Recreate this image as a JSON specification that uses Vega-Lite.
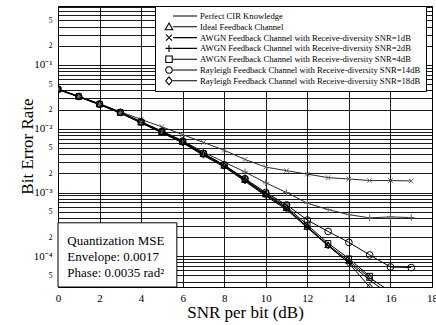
{
  "$schema": "https://vega.github.io/schema/vega-lite/v6.json",
  "width": 374,
  "height": 281,
  "autosize": "none",
  "padding": {"left": 58, "top": 6, "right": 4, "bottom": 38},
  "config": {
    "font": "Liberation Serif",
    "view": {"stroke": "#000", "strokeWidth": 1},
    "axis": {
      "domain": false,
      "ticks": false,
      "gridColor": "#000",
      "gridWidth": 0.9,
      "gridOpacity": 1,
      "labelColor": "#000",
      "titleColor": "#000",
      "labelFont": "Liberation Serif",
      "titleFont": "Liberation Serif",
      "titleFontWeight": "normal",
      "labelOverlap": false,
      "labelFlush": false,
      "labelBound": false
    }
  },
  "data": {
    "values": [
      {"s": "Perfect CIR Knowledge", "x": 0, "y": 0.0410},
      {"s": "Perfect CIR Knowledge", "x": 1, "y": 0.0314},
      {"s": "Perfect CIR Knowledge", "x": 2, "y": 0.0238},
      {"s": "Perfect CIR Knowledge", "x": 3, "y": 0.0175},
      {"s": "Perfect CIR Knowledge", "x": 4, "y": 0.0123},
      {"s": "Perfect CIR Knowledge", "x": 5, "y": 0.0086},
      {"s": "Perfect CIR Knowledge", "x": 6, "y": 0.0060},
      {"s": "Perfect CIR Knowledge", "x": 7, "y": 0.0038},
      {"s": "Perfect CIR Knowledge", "x": 8, "y": 0.00252},
      {"s": "Perfect CIR Knowledge", "x": 9, "y": 0.00150},
      {"s": "Perfect CIR Knowledge", "x": 10, "y": 0.00088},
      {"s": "Perfect CIR Knowledge", "x": 11, "y": 0.00054},
      {"s": "Perfect CIR Knowledge", "x": 12, "y": 0.00028},
      {"s": "Perfect CIR Knowledge", "x": 13, "y": 0.000145},
      {"s": "Perfect CIR Knowledge", "x": 14, "y": 0.000080},
      {"s": "Perfect CIR Knowledge", "x": 15, "y": 0.000042},
      {"s": "Perfect CIR Knowledge", "x": 16, "y": 0.000025},
      {"s": "Ideal Feedback Channel", "x": 0, "y": 0.0416},
      {"s": "Ideal Feedback Channel", "x": 1, "y": 0.0319},
      {"s": "Ideal Feedback Channel", "x": 2, "y": 0.0242},
      {"s": "Ideal Feedback Channel", "x": 3, "y": 0.0179},
      {"s": "Ideal Feedback Channel", "x": 4, "y": 0.0126},
      {"s": "Ideal Feedback Channel", "x": 5, "y": 0.0089},
      {"s": "Ideal Feedback Channel", "x": 6, "y": 0.0062},
      {"s": "Ideal Feedback Channel", "x": 7, "y": 0.0040},
      {"s": "Ideal Feedback Channel", "x": 8, "y": 0.00263},
      {"s": "Ideal Feedback Channel", "x": 9, "y": 0.00158},
      {"s": "Ideal Feedback Channel", "x": 10, "y": 0.00094},
      {"s": "Ideal Feedback Channel", "x": 11, "y": 0.00057},
      {"s": "Ideal Feedback Channel", "x": 12, "y": 0.00029},
      {"s": "Ideal Feedback Channel", "x": 13, "y": 0.000150},
      {"s": "Ideal Feedback Channel", "x": 14, "y": 0.000085},
      {"s": "Ideal Feedback Channel", "x": 15, "y": 0.000046},
      {"s": "Ideal Feedback Channel", "x": 16, "y": 0.000028},
      {"s": "AWGN Feedback Channel with Receive-diversity SNR=1dB", "x": 0, "y": 0.0420},
      {"s": "AWGN Feedback Channel with Receive-diversity SNR=1dB", "x": 1, "y": 0.0322},
      {"s": "AWGN Feedback Channel with Receive-diversity SNR=1dB", "x": 2, "y": 0.0246},
      {"s": "AWGN Feedback Channel with Receive-diversity SNR=1dB", "x": 3, "y": 0.0185},
      {"s": "AWGN Feedback Channel with Receive-diversity SNR=1dB", "x": 4, "y": 0.0140},
      {"s": "AWGN Feedback Channel with Receive-diversity SNR=1dB", "x": 5, "y": 0.0107},
      {"s": "AWGN Feedback Channel with Receive-diversity SNR=1dB", "x": 6, "y": 0.0081},
      {"s": "AWGN Feedback Channel with Receive-diversity SNR=1dB", "x": 7, "y": 0.0061},
      {"s": "AWGN Feedback Channel with Receive-diversity SNR=1dB", "x": 8, "y": 0.0046},
      {"s": "AWGN Feedback Channel with Receive-diversity SNR=1dB", "x": 9, "y": 0.0033},
      {"s": "AWGN Feedback Channel with Receive-diversity SNR=1dB", "x": 10, "y": 0.0025},
      {"s": "AWGN Feedback Channel with Receive-diversity SNR=1dB", "x": 11, "y": 0.0022},
      {"s": "AWGN Feedback Channel with Receive-diversity SNR=1dB", "x": 12, "y": 0.00194},
      {"s": "AWGN Feedback Channel with Receive-diversity SNR=1dB", "x": 13, "y": 0.00171},
      {"s": "AWGN Feedback Channel with Receive-diversity SNR=1dB", "x": 14, "y": 0.00163},
      {"s": "AWGN Feedback Channel with Receive-diversity SNR=1dB", "x": 15, "y": 0.00154},
      {"s": "AWGN Feedback Channel with Receive-diversity SNR=1dB", "x": 16, "y": 0.00154},
      {"s": "AWGN Feedback Channel with Receive-diversity SNR=1dB", "x": 17, "y": 0.00152},
      {"s": "AWGN Feedback Channel with Receive-diversity SNR=2dB", "x": 0, "y": 0.0418},
      {"s": "AWGN Feedback Channel with Receive-diversity SNR=2dB", "x": 1, "y": 0.0320},
      {"s": "AWGN Feedback Channel with Receive-diversity SNR=2dB", "x": 2, "y": 0.0244},
      {"s": "AWGN Feedback Channel with Receive-diversity SNR=2dB", "x": 3, "y": 0.0181},
      {"s": "AWGN Feedback Channel with Receive-diversity SNR=2dB", "x": 4, "y": 0.0129},
      {"s": "AWGN Feedback Channel with Receive-diversity SNR=2dB", "x": 5, "y": 0.0092},
      {"s": "AWGN Feedback Channel with Receive-diversity SNR=2dB", "x": 6, "y": 0.0065},
      {"s": "AWGN Feedback Channel with Receive-diversity SNR=2dB", "x": 7, "y": 0.0043},
      {"s": "AWGN Feedback Channel with Receive-diversity SNR=2dB", "x": 8, "y": 0.0030},
      {"s": "AWGN Feedback Channel with Receive-diversity SNR=2dB", "x": 9, "y": 0.0021},
      {"s": "AWGN Feedback Channel with Receive-diversity SNR=2dB", "x": 10, "y": 0.00142},
      {"s": "AWGN Feedback Channel with Receive-diversity SNR=2dB", "x": 11, "y": 0.00100},
      {"s": "AWGN Feedback Channel with Receive-diversity SNR=2dB", "x": 12, "y": 0.00068},
      {"s": "AWGN Feedback Channel with Receive-diversity SNR=2dB", "x": 13, "y": 0.00054},
      {"s": "AWGN Feedback Channel with Receive-diversity SNR=2dB", "x": 14, "y": 0.00045},
      {"s": "AWGN Feedback Channel with Receive-diversity SNR=2dB", "x": 15, "y": 0.00040},
      {"s": "AWGN Feedback Channel with Receive-diversity SNR=2dB", "x": 16, "y": 0.000415},
      {"s": "AWGN Feedback Channel with Receive-diversity SNR=2dB", "x": 17, "y": 0.000405},
      {"s": "AWGN Feedback Channel with Receive-diversity SNR=4dB", "x": 0, "y": 0.0417},
      {"s": "AWGN Feedback Channel with Receive-diversity SNR=4dB", "x": 1, "y": 0.0320},
      {"s": "AWGN Feedback Channel with Receive-diversity SNR=4dB", "x": 2, "y": 0.0243},
      {"s": "AWGN Feedback Channel with Receive-diversity SNR=4dB", "x": 3, "y": 0.0180},
      {"s": "AWGN Feedback Channel with Receive-diversity SNR=4dB", "x": 4, "y": 0.0127},
      {"s": "AWGN Feedback Channel with Receive-diversity SNR=4dB", "x": 5, "y": 0.0090},
      {"s": "AWGN Feedback Channel with Receive-diversity SNR=4dB", "x": 6, "y": 0.0063},
      {"s": "AWGN Feedback Channel with Receive-diversity SNR=4dB", "x": 7, "y": 0.0041},
      {"s": "AWGN Feedback Channel with Receive-diversity SNR=4dB", "x": 8, "y": 0.00268},
      {"s": "AWGN Feedback Channel with Receive-diversity SNR=4dB", "x": 9, "y": 0.00160},
      {"s": "AWGN Feedback Channel with Receive-diversity SNR=4dB", "x": 10, "y": 0.00096},
      {"s": "AWGN Feedback Channel with Receive-diversity SNR=4dB", "x": 11, "y": 0.00060},
      {"s": "AWGN Feedback Channel with Receive-diversity SNR=4dB", "x": 12, "y": 0.00031},
      {"s": "AWGN Feedback Channel with Receive-diversity SNR=4dB", "x": 13, "y": 0.000160},
      {"s": "AWGN Feedback Channel with Receive-diversity SNR=4dB", "x": 14, "y": 0.000092},
      {"s": "AWGN Feedback Channel with Receive-diversity SNR=4dB", "x": 15, "y": 0.000049},
      {"s": "Rayleigh Feedback Channel with Receive-diversity SNR=14dB", "x": 0, "y": 0.0418},
      {"s": "Rayleigh Feedback Channel with Receive-diversity SNR=14dB", "x": 1, "y": 0.0321},
      {"s": "Rayleigh Feedback Channel with Receive-diversity SNR=14dB", "x": 2, "y": 0.0244},
      {"s": "Rayleigh Feedback Channel with Receive-diversity SNR=14dB", "x": 3, "y": 0.0181},
      {"s": "Rayleigh Feedback Channel with Receive-diversity SNR=14dB", "x": 4, "y": 0.0128},
      {"s": "Rayleigh Feedback Channel with Receive-diversity SNR=14dB", "x": 5, "y": 0.0091},
      {"s": "Rayleigh Feedback Channel with Receive-diversity SNR=14dB", "x": 6, "y": 0.0064},
      {"s": "Rayleigh Feedback Channel with Receive-diversity SNR=14dB", "x": 7, "y": 0.0041},
      {"s": "Rayleigh Feedback Channel with Receive-diversity SNR=14dB", "x": 8, "y": 0.00270},
      {"s": "Rayleigh Feedback Channel with Receive-diversity SNR=14dB", "x": 9, "y": 0.00165},
      {"s": "Rayleigh Feedback Channel with Receive-diversity SNR=14dB", "x": 10, "y": 0.00100},
      {"s": "Rayleigh Feedback Channel with Receive-diversity SNR=14dB", "x": 11, "y": 0.00064},
      {"s": "Rayleigh Feedback Channel with Receive-diversity SNR=14dB", "x": 12, "y": 0.00037},
      {"s": "Rayleigh Feedback Channel with Receive-diversity SNR=14dB", "x": 13, "y": 0.000245},
      {"s": "Rayleigh Feedback Channel with Receive-diversity SNR=14dB", "x": 14, "y": 0.000165},
      {"s": "Rayleigh Feedback Channel with Receive-diversity SNR=14dB", "x": 15, "y": 0.000105},
      {"s": "Rayleigh Feedback Channel with Receive-diversity SNR=14dB", "x": 16, "y": 0.000068},
      {"s": "Rayleigh Feedback Channel with Receive-diversity SNR=14dB", "x": 17, "y": 0.0000665},
      {"s": "Rayleigh Feedback Channel with Receive-diversity SNR=18dB", "x": 0, "y": 0.0415},
      {"s": "Rayleigh Feedback Channel with Receive-diversity SNR=18dB", "x": 1, "y": 0.0318},
      {"s": "Rayleigh Feedback Channel with Receive-diversity SNR=18dB", "x": 2, "y": 0.0241},
      {"s": "Rayleigh Feedback Channel with Receive-diversity SNR=18dB", "x": 3, "y": 0.0178},
      {"s": "Rayleigh Feedback Channel with Receive-diversity SNR=18dB", "x": 4, "y": 0.0125},
      {"s": "Rayleigh Feedback Channel with Receive-diversity SNR=18dB", "x": 5, "y": 0.0088},
      {"s": "Rayleigh Feedback Channel with Receive-diversity SNR=18dB", "x": 6, "y": 0.0061},
      {"s": "Rayleigh Feedback Channel with Receive-diversity SNR=18dB", "x": 7, "y": 0.0039},
      {"s": "Rayleigh Feedback Channel with Receive-diversity SNR=18dB", "x": 8, "y": 0.00258},
      {"s": "Rayleigh Feedback Channel with Receive-diversity SNR=18dB", "x": 9, "y": 0.00154},
      {"s": "Rayleigh Feedback Channel with Receive-diversity SNR=18dB", "x": 10, "y": 0.00091},
      {"s": "Rayleigh Feedback Channel with Receive-diversity SNR=18dB", "x": 11, "y": 0.00056},
      {"s": "Rayleigh Feedback Channel with Receive-diversity SNR=18dB", "x": 12, "y": 0.00029},
      {"s": "Rayleigh Feedback Channel with Receive-diversity SNR=18dB", "x": 13, "y": 0.000148},
      {"s": "Rayleigh Feedback Channel with Receive-diversity SNR=18dB", "x": 14, "y": 0.000078},
      {"s": "Rayleigh Feedback Channel with Receive-diversity SNR=18dB", "x": 15, "y": 0.000033}
    ]
  },
  "encoding": {
    "x": {
      "field": "x",
      "type": "quantitative",
      "scale": {"domain": [0, 18], "nice": false, "zero": false},
      "axis": {
        "values": [0, 2, 4, 6, 8, 10, 12, 14, 16, 18],
        "labelFontSize": 11,
        "labelPadding": 5,
        "title": "SNR per bit (dB)",
        "titleFontSize": 17,
        "titleBaseline": "alphabetic",
        "titleY": 30
      }
    },
    "y": {
      "field": "y",
      "type": "quantitative",
      "scale": {"type": "log", "domain": [0.000033, 0.84], "nice": false},
      "axis": {
        "values": [0.00004, 0.00005, 0.00006, 0.00007, 0.00008, 0.00009, 0.0001, 0.0002, 0.0003, 0.0004, 0.0005, 0.0006, 0.0007, 0.0008, 0.0009, 0.001, 0.002, 0.003, 0.004, 0.005, 0.006, 0.007, 0.008, 0.009, 0.01, 0.02, 0.03, 0.04, 0.05, 0.06, 0.07, 0.08, 0.09, 0.1, 0.2, 0.3, 0.4, 0.5, 0.6, 0.7, 0.8],
        "labelExpr": "datum.value > 0.099 && datum.value < 0.101 ? '10⁻¹' : datum.value > 0.0099 && datum.value < 0.0101 ? '10⁻²' : datum.value > 0.00099 && datum.value < 0.00101 ? '10⁻³' : datum.value > 0.000099 && datum.value < 0.000101 ? '10⁻⁴' : abs(datum.value / pow(10, floor(log(datum.value) / LN10 + 0.000001)) - 5) < 0.01 ? '5' : abs(datum.value / pow(10, floor(log(datum.value) / LN10 + 0.000001)) - 2) < 0.01 ? '2' : ''",
        "labelFontSize": {"condition": {"test": "abs(datum.value / pow(10, round(log(datum.value) / LN10)) - 1) < 0.01", "value": 11}, "value": 7.5},
        "labelPadding": 6,
        "title": "Bit Error Rate",
        "titleFontSize": 17,
        "titleBaseline": "alphabetic",
        "titleX": -26,
        "titleY": 140,
        "titleAngle": -90,
        "titleAlign": "center"
      }
    }
  },
  "layer": [
    {
      "data": {"values": [{"x": 0, "x2": 5.72, "y": 0.000335, "y2": 0.000033}]},
      "mark": {"type": "rect", "fill": "white", "stroke": "black", "strokeWidth": 1},
      "encoding": {"x2": {"field": "x2"}, "y2": {"field": "y2"}}
    },
    {
      "mark": {"type": "line", "clip": true, "strokeWidth": 1},
      "encoding": {
        "color": {
          "field": "s",
          "type": "nominal",
          "scale": {
            "domain": ["Perfect CIR Knowledge", "Ideal Feedback Channel", "AWGN Feedback Channel with Receive-diversity SNR=1dB", "AWGN Feedback Channel with Receive-diversity SNR=2dB", "AWGN Feedback Channel with Receive-diversity SNR=4dB", "Rayleigh Feedback Channel with Receive-diversity SNR=14dB", "Rayleigh Feedback Channel with Receive-diversity SNR=18dB"],
            "range": ["#000000", "#000000", "#2a2a2a", "#2a2a2a", "#000000", "#000000", "#000000"]
          },
          "legend": null
        }
      }
    },
    {
      "transform": [{"filter": "datum.s != 'Perfect CIR Knowledge'"}],
      "mark": {"type": "point", "clip": true, "filled": false, "size": 45, "strokeWidth": 1, "opacity": 1},
      "encoding": {
        "stroke": {
          "field": "s",
          "type": "nominal",
          "scale": {
            "domain": ["Ideal Feedback Channel", "AWGN Feedback Channel with Receive-diversity SNR=1dB", "AWGN Feedback Channel with Receive-diversity SNR=2dB", "AWGN Feedback Channel with Receive-diversity SNR=4dB", "Rayleigh Feedback Channel with Receive-diversity SNR=14dB", "Rayleigh Feedback Channel with Receive-diversity SNR=18dB"],
            "range": ["#000000", "#666666", "#666666", "#000000", "#000000", "#000000"]
          },
          "legend": null
        },
        "shape": {
          "field": "s",
          "type": "nominal",
          "scale": {
            "domain": ["Ideal Feedback Channel", "AWGN Feedback Channel with Receive-diversity SNR=1dB", "AWGN Feedback Channel with Receive-diversity SNR=2dB", "AWGN Feedback Channel with Receive-diversity SNR=4dB", "Rayleigh Feedback Channel with Receive-diversity SNR=14dB", "Rayleigh Feedback Channel with Receive-diversity SNR=18dB"],
            "range": ["M 0 -1 L 1 0.75 L -1 0.75 Z", "M -0.7 -0.7 L 0.7 0.7 M -0.7 0.7 L 0.7 -0.7", "M -1 0 L 1 0 M 0 -1 L 0 1", "M -0.8 -0.8 L 0.8 -0.8 L 0.8 0.8 L -0.8 0.8 Z", "circle", "M 0 -1 L 0.8 0 L 0 1 L -0.8 0 Z"]
          },
          "legend": null
        }
      }
    },
    {
      "transform": [{"filter": "false"}],
      "mark": {"type": "point", "filled": false, "color": "black", "strokeWidth": 1, "opacity": 1},
      "encoding": {
        "shape": {
          "field": "s",
          "type": "nominal",
          "scale": {
            "domain": ["Perfect CIR Knowledge", "Ideal Feedback Channel", "AWGN Feedback Channel with Receive-diversity SNR=1dB", "AWGN Feedback Channel with Receive-diversity SNR=2dB", "AWGN Feedback Channel with Receive-diversity SNR=4dB", "Rayleigh Feedback Channel with Receive-diversity SNR=14dB", "Rayleigh Feedback Channel with Receive-diversity SNR=18dB"],
            "range": [
              "M 2 0 L 8 0",
              "M 1 -0.94 L 1.94 0.75 L 0.06 0.75 Z M 2 0 L 8 0",
              "M 0.25 -0.75 L 1.75 0.75 M 0.25 0.75 L 1.75 -0.75 M 2 0 L 8 0",
              "M 0.125 0 L 1.875 0 M 1 -0.875 L 1 0.875 M 2 0 L 8 0",
              "M 0.19 -0.81 L 1.81 -0.81 L 1.81 0.81 L 0.19 0.81 Z M 2 0 L 8 0",
              "M 1.81 0 A 0.81 0.81 0 1 1 0.19 0 A 0.81 0.81 0 1 1 1.81 0 Z M 2 0 L 8 0",
              "M 1 -1 L 1.81 0 L 1 1 L 0.19 0 Z M 2 0 L 8 0"
            ]
          },
          "legend": {
            "title": null,
            "orient": "none",
            "legendX": 97,
            "legendY": 0,
            "fillColor": "white",
            "strokeColor": "black",
            "padding": 5,
            "cornerRadius": 0,
            "labelFont": "Liberation Serif",
            "labelFontSize": 8.65,
            "labelColor": "black",
            "labelLimit": 400,
            "labelOffset": 30,
            "symbolSize": 64,
            "symbolStrokeWidth": 1.1,
            "symbolStrokeColor": "black",
            "symbolFillColor": "transparent",
            "symbolOpacity": 1,
            "clipHeight": 10,
            "rowPadding": 0.8
          }
        }
      }
    },
    {
      "data": {"values": [
        {"x": 0.45, "y": 0.000176, "t": "Quantization MSE"},
        {"x": 0.45, "y": 0.000099, "t": "Envelope: 0.0017"},
        {"x": 0.45, "y": 0.0000556, "t": "Phase: 0.0035 rad²"}
      ]},
      "mark": {"type": "text", "align": "left", "baseline": "middle", "fontSize": 13, "color": "black", "font": "Liberation Serif"},
      "encoding": {"text": {"field": "t"}}
    }
  ],
  "resolve": {"scale": {"shape": "independent"}, "legend": {"shape": "independent"}}
}
